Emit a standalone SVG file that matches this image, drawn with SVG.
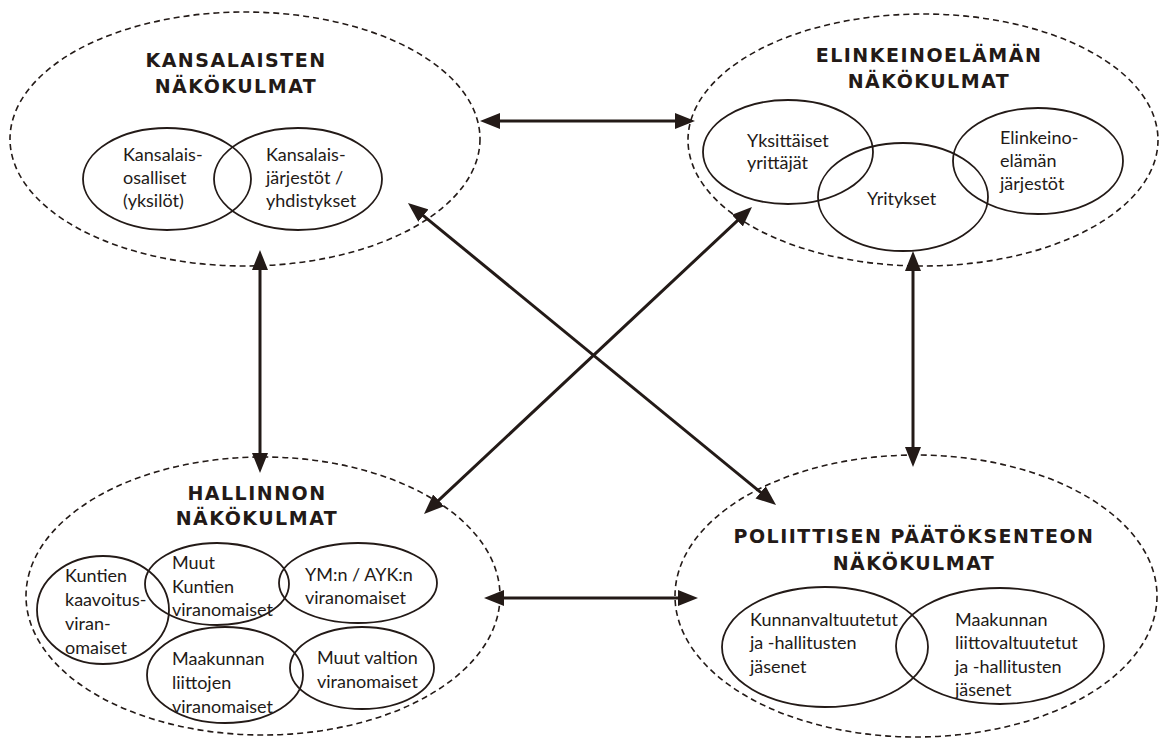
<svg xmlns="http://www.w3.org/2000/svg" width="1160" height="740" viewBox="0 0 1160 740">
<defs>
<style>
.bg{fill:#ffffff}
.outer{fill:none;stroke:#231a17;stroke-width:1.6;stroke-dasharray:6 4}
.inner{fill:none;stroke:#231a17;stroke-width:1.8}
.title{font-family:"DejaVu Sans","Liberation Sans",sans-serif;font-weight:bold;font-size:19px;letter-spacing:1.5px;fill:#231a17;text-anchor:middle}
.lbl{font-family:Lato,"Liberation Sans",sans-serif;font-size:18px;fill:#231a17}
.conn{fill:none;stroke:#231a17;stroke-width:3}
</style>
<marker id="ah" markerUnits="userSpaceOnUse" markerWidth="20" markerHeight="16" refX="14" refY="8" orient="auto-start-reverse" viewBox="0 0 20 16">
<path d="M0,0 L20,8 L0,16 Z" fill="#231a17"/>
</marker>
</defs>
<rect class="bg" x="0" y="0" width="1160" height="740"/>

<g id="kansalaiset">
<ellipse class="outer" cx="245" cy="139" rx="235" ry="127"/>
<text class="title" x="236" y="67">KANSALAISTEN</text>
<text class="title" x="236" y="93">NÄKÖKULMAT</text>
<ellipse class="inner" cx="167" cy="179" rx="84" ry="51"/>
<ellipse class="inner" cx="298" cy="179" rx="84" ry="51"/>
<text class="lbl" x="123" y="161">Kansalais-</text>
<text class="lbl" x="123" y="184">osalliset</text>
<text class="lbl" x="123" y="207">(yksilöt)</text>
<text class="lbl" x="266" y="161">Kansalais-</text>
<text class="lbl" x="266" y="184">järjestöt /</text>
<text class="lbl" x="266" y="207">yhdistykset</text>
</g>

<g id="elinkeinoelama">
<ellipse class="outer" cx="923" cy="140" rx="235" ry="126"/>
<text class="title" x="929" y="62">ELINKEINOELÄMÄN</text>
<text class="title" x="929" y="88">NÄKÖKULMAT</text>
<ellipse class="inner" cx="788" cy="152" rx="85" ry="52"/>
<ellipse class="inner" cx="903" cy="197" rx="85" ry="54"/>
<ellipse class="inner" cx="1038" cy="161" rx="85" ry="53"/>
<text class="lbl" x="747" y="147">Yksittäiset</text>
<text class="lbl" x="747" y="169">yrittäjät</text>
<text class="lbl" x="867" y="205">Yritykset</text>
<text class="lbl" x="1000" y="144">Elinkeino-</text>
<text class="lbl" x="1000" y="167">elämän</text>
<text class="lbl" x="1000" y="190">järjestöt</text>
</g>

<g id="hallinto">
<ellipse class="outer" cx="263" cy="596" rx="237" ry="139"/>
<text class="title" x="257" y="500">HALLINNON</text>
<text class="title" x="257" y="525">NÄKÖKULMAT</text>
<ellipse class="inner" cx="103" cy="610" rx="66" ry="54"/>
<ellipse class="inner" cx="217" cy="584" rx="72" ry="41"/>
<ellipse class="inner" cx="358" cy="583" rx="79" ry="40"/>
<ellipse class="inner" cx="225" cy="675" rx="78" ry="48"/>
<ellipse class="inner" cx="362" cy="668" rx="72" ry="41"/>
<text class="lbl" x="65" y="582">Kuntien</text>
<text class="lbl" x="65" y="606">kaavoitus-</text>
<text class="lbl" x="65" y="630">viran-</text>
<text class="lbl" x="65" y="654">omaiset</text>
<text class="lbl" x="172" y="569">Muut</text>
<text class="lbl" x="172" y="593">Kuntien</text>
<text class="lbl" x="172" y="616">viranomaiset</text>
<text class="lbl" x="305" y="581">YM:n / AYK:n</text>
<text class="lbl" x="305" y="604">viranomaiset</text>
<text class="lbl" x="172" y="665">Maakunnan</text>
<text class="lbl" x="172" y="689">liittojen</text>
<text class="lbl" x="172" y="713">viranomaiset</text>
<text class="lbl" x="317" y="664">Muut valtion</text>
<text class="lbl" x="317" y="688">viranomaiset</text>
</g>

<g id="politiikka">
<ellipse class="outer" cx="916" cy="596" rx="241" ry="141"/>
<text class="title" x="914" y="543">POLIITTISEN PÄÄTÖKSENTEON</text>
<text class="title" x="914" y="570">NÄKÖKULMAT</text>
<ellipse class="inner" cx="825" cy="647" rx="103" ry="60"/>
<ellipse class="inner" cx="1000" cy="646" rx="104" ry="58"/>
<text class="lbl" x="750" y="626">Kunnanvaltuutetut</text>
<text class="lbl" x="750" y="649">ja -hallitusten</text>
<text class="lbl" x="750" y="673">jäsenet</text>
<text class="lbl" x="955" y="626">Maakunnan</text>
<text class="lbl" x="955" y="649">liittovaltuutetut</text>
<text class="lbl" x="955" y="673">ja -hallitusten</text>
<text class="lbl" x="955" y="696">jäsenet</text>
</g>

<g id="connectors">
<line class="conn" x1="486" y1="121" x2="689" y2="121" marker-start="url(#ah)" marker-end="url(#ah)"/>
<line class="conn" x1="490" y1="598" x2="692" y2="598" marker-start="url(#ah)" marker-end="url(#ah)"/>
<line class="conn" x1="260" y1="256" x2="260" y2="467" marker-start="url(#ah)" marker-end="url(#ah)"/>
<line class="conn" x1="913" y1="257" x2="913" y2="461" marker-start="url(#ah)" marker-end="url(#ah)"/>
<line class="conn" x1="412.6" y1="206.8" x2="771.4" y2="501.2" marker-start="url(#ah)" marker-end="url(#ah)"/>
<line class="conn" x1="747.6" y1="211.1" x2="428.4" y2="509.9" marker-start="url(#ah)" marker-end="url(#ah)"/>
</g>
</svg>
